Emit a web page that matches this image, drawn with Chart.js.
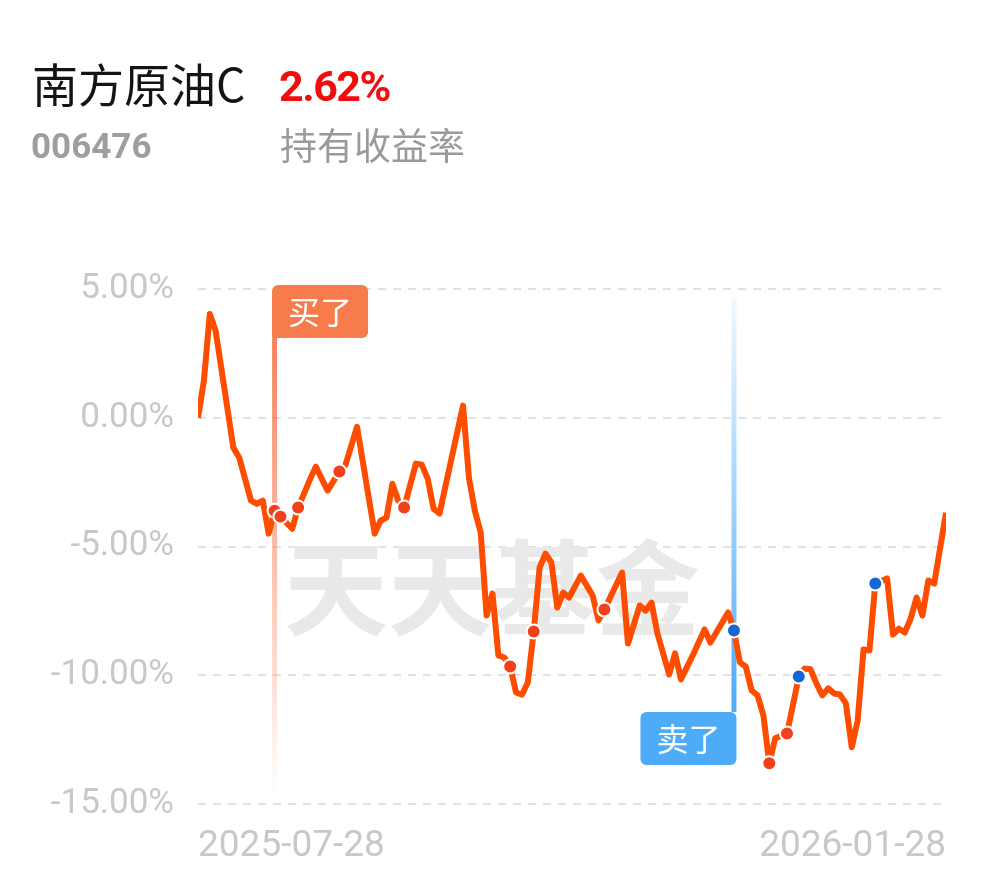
<!DOCTYPE html>
<html>
<head>
<meta charset="utf-8">
<script src="https://cdn.jsdelivr.net/npm/chart.js@4"></script>
<style>
  body { margin: 0; background: #fff; }
  #wrap { position: relative; width: 990px; height: 878px; overflow: hidden; }
  #chart { position: absolute; left: 0; top: 0; }
  .txt { position: absolute; white-space: nowrap; line-height: 1; }
  #name { left: 32px; top: 49px; font: 46px "Noto Sans CJK SC", sans-serif; color: #141414; }
  #rate { left: 279px; top: 61px; font: bold 43px Roboto, sans-serif; color: #f20d0d; letter-spacing: -1.5px; }
  #code { left: 31px; top: 126px; font: bold 35px Roboto, sans-serif; color: #9e9e9e; }
  #rateLabel { left: 280px; top: 117px; font: 37px "Noto Sans CJK SC", sans-serif; color: #9a9a9a; }
</style>
</head>
<body>
<div id="wrap">
  <canvas id="chart" width="990" height="878"></canvas>
  <div class="txt" id="name">南方原油C</div>
  <div class="txt" id="rate">2.62%</div>
  <div class="txt" id="code">006476</div>
  <div class="txt" id="rateLabel">持有收益率</div>
</div>
<script>
// trading day index (from the first date) and holding return in %
const dayIdx = [0,1,2,3,6,7,9,10,11,12,13,14,16,17,19,20,22,24,25,27,30,31,32,33,34,35,37,38,39,40,41,
  45,46,47,48,49,50,51,52,53,54,55,56,57,58,59,60,61,62,63,65,67,68,69,72,73,75,76,77,78,80,81,82,84,86,87,
  90,91,92,93,94,95,96,97,98,100,101,102,103,104,105,106,107,108,109,110,111,112,113,114,115,
  117,118,119,120,121,122,123,124,125,127];
const returns = [0.00,1.44,4.03,3.37,-1.16,-1.55,-3.22,-3.34,-3.22,-4.50,-3.61,-3.84,-4.31,-3.49,-2.40,-1.90,-2.83,-2.09,-1.86,-0.35,
  -4.50,-4.00,-3.88,-2.56,-3.22,-3.49,-1.78,-1.82,-2.37,-3.53,-3.72,
  0.47,-2.33,-3.61,-4.46,-7.68,-6.83,-9.23,-9.31,-9.66,-10.67,-10.75,-10.28,-8.30,-5.82,-5.28,-5.62,-7.37,-6.79,-6.98,
  -6.13,-6.90,-7.87,-7.45,-6.01,-8.77,-7.29,-7.49,-7.18,-8.38,-9.97,-9.15,-10.16,-9.23,-8.22,-8.73,
  -7.56,-8.26,-9.50,-9.66,-10.59,-10.78,-11.56,-13.42,-12.45,
  -12.26,-11.17,-10.05,-9.74,-9.77,-10.32,-10.78,-10.51,-10.71,-10.75,-11.09,-12.80,-11.75,-9.00,-9.04,-6.44,
  -6.24,-8.42,-8.19,-8.34,-7.80,-6.98,-7.68,-6.32,-6.44,-3.69];

// days with buy / sell dots
const buyDays = [13,14,17,24,35,53,57,69,97,100];
const sellDays = [91,102,115];
// flags
const buyFlagDay = 13, sellFlagDay = 91;

const tickDays = [0, 127];
const tickLabels = ['2025-07-28', '2026-01-28'];
const yTicks = [5, 0, -5, -10, -15];

const linePts = dayIdx.map((d, i) => ({ x: d, y: returns[i] }));
const dots = days => days.map(d => ({ x: d, y: returns[dayIdx.indexOf(d)] }));

function roundRect(ctx, x, y, w, h, r) {
  ctx.beginPath();
  ctx.moveTo(x + r, y);
  ctx.arcTo(x + w, y, x + w, y + h, r);
  ctx.arcTo(x + w, y + h, x, y + h, r);
  ctx.arcTo(x, y + h, x, y, r);
  ctx.arcTo(x, y, x + w, y, r);
  ctx.closePath();
}

const decor = {
  id: 'decor',
  beforeDatasetsDraw(chart) {
    const ctx = chart.ctx, xs = chart.scales.x, a = chart.chartArea;
    ctx.save();
    // watermark
    ctx.fillStyle = '#e9e9e9';
    ctx.font = 'bold 104px "Noto Sans CJK SC", sans-serif';
    ctx.textAlign = 'center';
    ctx.textBaseline = 'middle';
    ctx.fillText('天天基金', 492, 588);

    // buy flag line
    const bx = xs.getPixelForValue(buyFlagDay);
    let g = ctx.createLinearGradient(0, a.top + 10, 0, a.bottom - 8);
    g.addColorStop(0, 'rgba(247,120,78,1)');
    g.addColorStop(1, 'rgba(247,120,78,0)');
    ctx.fillStyle = g;
    ctx.fillRect(bx - 2.5, a.top + 10, 5, a.bottom - a.top - 18);

    // sell flag line
    const sx = xs.getPixelForValue(sellFlagDay);
    g = ctx.createLinearGradient(0, a.top + 8, 0, 712);
    g.addColorStop(0, 'rgba(77,171,247,0.08)');
    g.addColorStop(1, 'rgba(77,171,247,1)');
    ctx.fillStyle = g;
    ctx.fillRect(sx - 2.5, a.top + 8, 5, 712 - a.top - 8);
    ctx.restore();
  },
  afterDatasetsDraw(chart) {
    const ctx = chart.ctx, xs = chart.scales.x;
    const bx = xs.getPixelForValue(buyFlagDay);
    const sx = xs.getPixelForValue(sellFlagDay);
    ctx.save();
    ctx.font = '32px "Noto Sans CJK SC", sans-serif';
    ctx.textAlign = 'center';
    ctx.textBaseline = 'middle';
    ctx.fillStyle = '#f87b4c';
    roundRect(ctx, bx - 2.5, 285, 96, 53, 6);
    ctx.fill();
    ctx.fillStyle = '#fff';
    ctx.fillText('买了', bx - 2.5 + 48, 312);
    ctx.fillStyle = '#4dabf7';
    roundRect(ctx, sx + 2.5 - 96, 712, 96, 53, 6);
    ctx.fill();
    ctx.fillStyle = '#fff';
    ctx.fillText('卖了', sx + 2.5 - 48, 739);
    ctx.restore();
  }
};

new Chart(document.getElementById('chart'), {
  type: 'line',
  data: {
    datasets: [
      { data: dots(buyDays), showLine: false, pointRadius: 7, pointBorderWidth: 2,
        pointBorderColor: '#fff', pointBackgroundColor: '#f2401d', order: 0 },
      { data: dots(sellDays), showLine: false, pointRadius: 7, pointBorderWidth: 2,
        pointBorderColor: '#fff', pointBackgroundColor: '#1766d6', order: 0 },
      { data: linePts, borderColor: '#ff4d00', borderWidth: 6, borderJoinStyle: 'round',
        pointRadius: 0, tension: 0, order: 1 }
    ]
  },
  options: {
    responsive: false,
    devicePixelRatio: 1,
    animation: false,
    layout: { padding: { top: 289, right: 44, left: 0, bottom: 0 } },
    plugins: { legend: { display: false }, tooltip: { enabled: false } },
    scales: {
      x: {
        type: 'linear',
        min: 0,
        max: 127,
        afterBuildTicks: axis => { axis.ticks = tickDays.map(v => ({ value: v })); },
        afterFit: axis => { axis.height = 74; },
        grid: { display: false },
        border: { display: false },
        ticks: {
          align: 'inner',
          maxRotation: 0,
          padding: 13,
          color: '#c8c8c8',
          font: { family: 'Roboto', size: 37 },
          callback: (v, i) => tickLabels[i]
        }
      },
      y: {
        min: -15,
        max: 5,
        afterBuildTicks: axis => { axis.ticks = yTicks.map(v => ({ value: v })); },
        afterFit: axis => { axis.width = 198; },
        grid: { color: '#e2e2e2', lineWidth: 2, drawTicks: false },
        border: { display: false, dash: [8, 7] },
        ticks: {
          padding: 24,
          color: '#c8c8c8',
          font: { family: 'Roboto', size: 35 },
          callback: v => v.toFixed(2) + '%'
        }
      }
    }
  },
  plugins: [decor]
});
</script>
</body>
</html>
